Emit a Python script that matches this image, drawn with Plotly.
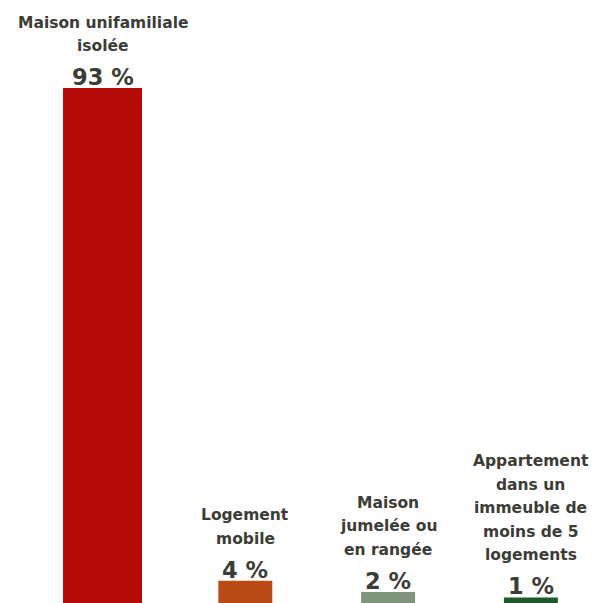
import plotly.graph_objects as go

# Types de logement et part (%) de chacun
categories = ["Maison unifamiliale isolée", "Logement mobile",
              "Maison jumelée ou en rangée",
              "Appartement dans un immeuble de moins de 5 logements"]
label_lines = [["Maison unifamiliale", "isolée"],
               ["Logement", "mobile"],
               ["Maison", "jumelée ou", "en rangée"],
               ["Appartement", "dans un", "immeuble de", "moins de 5", "logements"]]
values = [93, 4, 2, 1]
value_labels = ["93 %", "4 %", "2 %", "1 %"]
colors = ["#b50b0b", "#b84a16", "#7f937d", "#1e5a2b"]
bar_widths = [0.553, 0.378, 0.378, 0.378]

TEXT = "#3c3c37"
FONT = "DejaVu Sans, Verdana, sans-serif"

fig = go.Figure(go.Bar(
    x=list(range(len(categories))),
    y=values,
    width=bar_widths,
    marker=dict(color=colors, line=dict(width=0)),
    hovertext=categories,
    hoverinfo="text+y",
))

annotations = []
LINE_H = 23.5
for i, (v, vl, lines) in enumerate(zip(values, value_labels, label_lines)):
    annotations.append(dict(
        x=i, y=v, xref="x", yref="y", text=f"<b>{vl}</b>", showarrow=False,
        yanchor="bottom", yshift=-4, font=dict(size=22.5, color=TEXT, family=FONT)))
    for k, line in enumerate(reversed(lines)):
        annotations.append(dict(
            x=i, y=v, xref="x", yref="y", text=f"<b>{line}</b>", showarrow=False,
            yanchor="bottom", yshift=31 + k * LINE_H,
            font=dict(size=15.5, color=TEXT, family=FONT)))

fig.update_layout(
    width=593, height=603,
    margin=dict(l=0, r=0, t=0, b=0),
    paper_bgcolor="white", plot_bgcolor="white",
    showlegend=False,
    annotations=annotations,
    xaxis=dict(range=[-0.718, 3.435], visible=False, fixedrange=True),
    yaxis=dict(range=[0, 93 * 603 / 515], visible=False, fixedrange=True),
)

fig.write_html("out.html", config={"displayModeBar": False})
